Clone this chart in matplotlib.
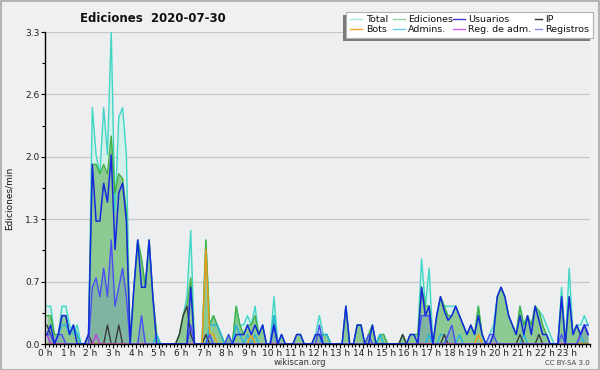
import matplotlib
matplotlib.use("Agg")
import matplotlib.pyplot as plt
from matplotlib.patches import Rectangle
from matplotlib.lines import Line2D
import numpy as np

# 10-minute buckets, edits per minute (6 values per hour, 24 rows)
total = [
    0.4,0.4,0.1,0.1,0.4,0.4,   0.2,0.1,0.2,0,0,0.1,
    2.5,2.0,1.8,2.5,2.0,3.3,   1.4,2.4,2.5,2.0,0,0.6,
    1.1,0.9,0.6,1.1,0.5,0.1,   0,0,0,0,0,0.1,
    0.3,0.5,1.2,0,0,0,         1.1,0.2,0.3,0.2,0.1,0,
    0.1,0,0.4,0.2,0.2,0.3,     0.2,0.4,0.1,0.2,0,0,
    0.5,0,0.1,0,0,0,           0.1,0.1,0,0,0,0.1,
    0.3,0.1,0.1,0,0,0,         0,0.4,0,0,0.2,0.2,
    0,0.1,0.2,0,0.1,0.1,       0,0,0,0,0.1,0,
    0.1,0.1,0.1,0.9,0.4,0.8,   0,0.3,0.5,0.4,0.4,0.4,
    0.4,0.3,0.2,0.1,0.2,0.1,   0.4,0.1,0,0.1,0.2,0.5,
    0.6,0.5,0.3,0.2,0.1,0.4,   0.2,0.3,0.2,0.4,0.35,0.3,
    0.2,0.1,0,0,0.6,0,         0.8,0.1,0.2,0.2,0.3,0.2,
]
ediciones = [
    0.3,0.3,0.1,0.1,0.3,0.3,   0.1,0.2,0.1,0,0,0.1,
    1.9,1.9,1.8,1.9,1.8,2.2,   1.6,1.8,1.75,1.4,0,0.6,
    1.1,0.9,0.6,1.1,0.5,0.1,   0,0,0,0,0,0.1,
    0.3,0.4,0.7,0,0,0,         1.1,0.2,0.3,0.2,0.1,0,
    0.1,0,0.4,0.2,0.1,0.2,     0.2,0.3,0.1,0.2,0,0,
    0.3,0,0.1,0,0,0,           0.1,0.1,0,0,0,0.1,
    0.1,0.1,0.1,0,0,0,         0,0.4,0,0,0.2,0.2,
    0,0.1,0.2,0,0.1,0.1,       0,0,0,0,0.1,0,
    0.1,0.1,0.1,0.6,0.4,0.4,   0,0.3,0.5,0.4,0.3,0.3,
    0.4,0.3,0.2,0.1,0.2,0.1,   0.4,0.1,0,0,0.1,0.5,
    0.6,0.5,0.3,0.2,0.1,0.4,   0.2,0.3,0.2,0.4,0.35,0.2,
    0.1,0,0,0,0.5,0,           0.5,0.1,0.2,0.1,0.2,0.1,
]
usuarios = [
    0.1,0.2,0,0.1,0.3,0.3,     0.1,0.2,0,0,0,0.1,
    1.9,1.3,1.3,1.7,1.5,2.0,   1.0,1.6,1.7,1.3,0,0.6,
    1.1,0.6,0.6,1.1,0.5,0,     0,0,0,0,0,0,
    0,0,0.6,0,0,0,             0,0,0,0,0,0,
    0,0,0.1,0.1,0.1,0.2,       0.1,0.2,0.1,0.2,0,0,
    0.2,0,0.1,0,0,0,           0.1,0.1,0,0,0,0.1,
    0.1,0,0,0,0,0,             0,0.4,0,0,0.2,0.2,
    0,0,0.2,0,0,0,             0,0,0,0,0,0,
    0.1,0.1,0,0.6,0.3,0.4,     0,0.3,0.5,0.35,0.25,0.3,
    0.4,0.3,0.2,0.1,0.2,0.1,   0.3,0.1,0,0,0.1,0.5,
    0.6,0.5,0.3,0.2,0.1,0.3,   0.1,0.3,0.1,0.4,0.25,0.1,
    0.1,0,0,0,0.5,0,           0.5,0.1,0.2,0.1,0.2,0.1,
]
ip = [
    0.2,0.1,0,0,0,0,           0,0,0,0,0,0.1,
    0,0,0,0,0.2,0,             0,0.2,0,0,0,0,
    0,0,0,0,0,0,               0,0,0,0,0,0.1,
    0.3,0.4,0.1,0,0,0,         0.1,0,0,0,0,0,
    0,0,0,0,0,0,               0,0,0,0,0,0,
    0,0,0,0,0,0,               0,0,0,0,0,0,
    0,0,0,0,0,0,               0,0,0,0,0,0,
    0,0,0,0,0,0,               0,0,0,0,0.1,0,
    0,0,0,0,0,0,               0,0,0,0.1,0,0,
    0,0,0,0,0,0,               0,0,0,0,0,0,
    0,0,0,0,0,0.1,             0,0,0,0,0.1,0,
    0,0,0,0,0,0,               0,0,0,0,0,0,
]
bots = [0.0] * 144
bots[42], bots[43], bots[44], bots[54], bots[114] = 1.0, 0.1, 0.1, 0.1, 0.1
admins = [
    0,0,0,0.1,0.2,0.2,         0.1,0.2,0.1,0,0,0,
    0,0,0,0,0,0,               0,0,0,0,0,0,
    0,0,0,0,0,0.1,             0,0,0,0,0,0,
    0,0,0,0,0,0,               0,0.2,0.2,0.2,0.1,0,
    0,0,0.2,0.1,0,0.1,         0,0.1,0,0,0,0,
    0.3,0,0,0,0,0,             0,0,0,0,0,0,
    0,0.1,0.1,0,0,0,           0,0,0,0,0,0,
    0,0,0,0,0.1,0,             0,0,0,0,0,0,
    0,0,0,0,0,0.1,             0,0,0.1,0.1,0,0,
    0,0.1,0,0,0,0,             0,0,0,0,0,0,
    0,0,0,0,0,0,               0.1,0,0,0,0,0,
    0,0,0,0,0,0,               0,0,0,0.1,0,0,
]
reg_adm = [0.0] * 144
reg_adm[0], reg_adm[13], reg_adm[141], reg_adm[142], reg_adm[143] = 0.1, 0.1, 0.1, 0.2, 0.1
registros = [
    0.1,0.1,0,0.1,0.1,0,       0,0,0,0,0,0,
    0.6,0.7,0.5,0.8,0.5,1.1,   0.4,0.6,0.8,0.5,0,0,
    0,0.3,0,0,0,0,             0,0,0,0,0,0,
    0,0,0.2,0,0,0,             0,0.1,0,0,0,0,
    0.1,0,0,0,0,0,             0,0,0,0,0,0,
    0.2,0,0,0,0,0,             0,0,0,0,0,0,
    0.2,0,0,0,0,0,             0,0,0,0,0,0,
    0,0.1,0,0,0,0,             0,0,0,0,0,0,
    0,0,0,0.3,0.3,0.3,         0,0,0,0,0.1,0.2,
    0,0,0,0,0,0,               0,0,0,0.1,0.1,0,
    0,0,0,0,0,0,               0,0,0,0,0,0,
    0,0,0,0,0.1,0,             0,0,0,0.1,0.2,0.2,
]

hour_labels = [f"{h} h" for h in range(24)]
ytick_vals = [0, 0.66, 1.32, 1.98, 2.64, 3.3]
ytick_labels = ["0.0", "0.7", "1.3", "2.0", "2.6", "3.3"]

series_names = ["Total", "Ediciones", "Usuarios", "IP",
                "Bots", "Admins.", "Reg. de adm.", "Registros"]
colors = {"Total": "#3fd6c6", "Ediciones": "#44b044", "Usuarios": "#1428e0",
          "IP": "#3a3a3a", "Bots": "#f39a12", "Admins.": "#22b4e4",
          "Reg. de adm.": "#c43cdc", "Registros": "#4a4cf4"}
legend_colors = {"Total": "#a8e8e0", "Ediciones": "#90d494", "Usuarios": "#3a3ae0",
                 "IP": "#303030", "Bots": "#f7a030", "Admins.": "#66d0e8",
                 "Reg. de adm.": "#d060e8", "Registros": "#8888f0"}

t = (np.arange(144) + 0.5) / 6.0

W, H = 600, 370
fig = plt.figure(figsize=(W / 100, H / 100), dpi=100, facecolor="#f0f0f0")
ax = fig.add_axes([45 / W, (H - 344) / H, 545 / W, 312 / H])
ax.set_facecolor("#eceef0")

# fills
ax.fill_between(t, 0, total, color="#d3f1ea", lw=0, zorder=1)
ax.fill_between(t, 0, ediciones, color="#8dca93", lw=0, zorder=2)
ax.fill_between(t, 0, registros, color="#4050e0", alpha=0.18, lw=0, zorder=3)

lw = 1.0
ax.plot(t, total, color=colors["Total"], lw=lw, zorder=4)
ax.plot(t, ediciones, color=colors["Ediciones"], lw=lw, zorder=5)
ax.plot(t, admins, color=colors["Admins."], lw=lw, zorder=6)
ax.plot(t, ip, color=colors["IP"], lw=lw, zorder=7)
ax.plot(t, bots, color=colors["Bots"], lw=lw, zorder=8)
ax.plot(t, reg_adm, color=colors["Reg. de adm."], lw=lw, zorder=8)
ax.plot(t, registros, color=colors["Registros"], lw=lw, zorder=9)
ax.plot(t, usuarios, color=colors["Usuarios"], lw=1.1, zorder=10)

ax.set_xlim(0, 24)
ax.set_ylim(0, 3.3)
ax.set_xticks(range(24))
ax.set_xticklabels(hour_labels)
ax.set_xticks(np.arange(0, 24.01, 1 / 6), minor=True)
ax.set_yticks(ytick_vals)
ax.set_yticklabels(ytick_labels)
ax.set_yticks([0.33, 0.99, 1.65, 2.31, 2.97], minor=True)
ax.tick_params(axis="both", which="major", direction="out", length=3, width=0.8,
               labelsize=6.5, labelcolor="#222222", pad=0.8)
ax.tick_params(axis="both", which="minor", direction="out", length=2, width=0.8)
for s in ["top", "right"]:
    ax.spines[s].set_visible(False)
for s in ["left", "bottom"]:
    ax.spines[s].set_linewidth(1.0)
    ax.spines[s].set_zorder(20)
for yv in ytick_vals[1:]:
    ax.axhline(yv, color="#c8c8c8", lw=0.9, zorder=0.5)

fig.text(9 / W, 1 - 198 / H, "Ediciones/min", rotation=90, ha="center", va="center",
         fontsize=6.5, color="#111111")
fig.text(153 / W, 1 - 18 / H, "Ediciones  2020-07-30", ha="center", va="center",
         fontsize=8.5, fontweight="bold", color="#111111")
fig.text(300 / W, 1 - 362.5 / H, "wikiscan.org", ha="center", va="center",
         fontsize=6, color="#333333")
fig.text(590 / W, 1 - 363 / H, "CC BY-SA 3.0", ha="right", va="center",
         fontsize=5, color="#444444")

# legend (manual, with offset shadow)
def fx(px):
    return px / W

def fy(py):
    return 1 - py / H

fig.patches.append(Rectangle((fx(343), fy(41)), fx(247), 26 / H, transform=fig.transFigure,
                             facecolor="#7a7a7a", edgecolor="none", zorder=30))
fig.patches.append(Rectangle((fx(346), fy(38)), fx(247), 26 / H, transform=fig.transFigure,
                             facecolor="white", edgecolor="#b0b0b0", lw=0.8, zorder=31))
cols = [(350, 366), (393, 408), (453, 468), (535, 545)]
rows = [19, 29]
for k, name in enumerate(series_names):
    r, c = divmod(k, 4)
    hx, tx = cols[c]
    hl = 12 if c < 3 else 7
    y = fy(rows[r])
    fig.add_artist(Line2D([fx(hx), fx(hx + hl)], [y, y], transform=fig.transFigure,
                          color=legend_colors[name], lw=1.0, zorder=32))
    fig.text(fx(tx), y, name, ha="left", va="center", fontsize=6.8, color="#111111",
             zorder=33)

fig.patches.append(Rectangle((0.5 / W, 0.5 / H), 1 - 1.5 / W, 1 - 1.5 / H, transform=fig.transFigure,
                             fill=False, edgecolor="#a8a8a8", lw=1.2, zorder=40))

fig.savefig("out.png", dpi=100, facecolor=fig.get_facecolor())
